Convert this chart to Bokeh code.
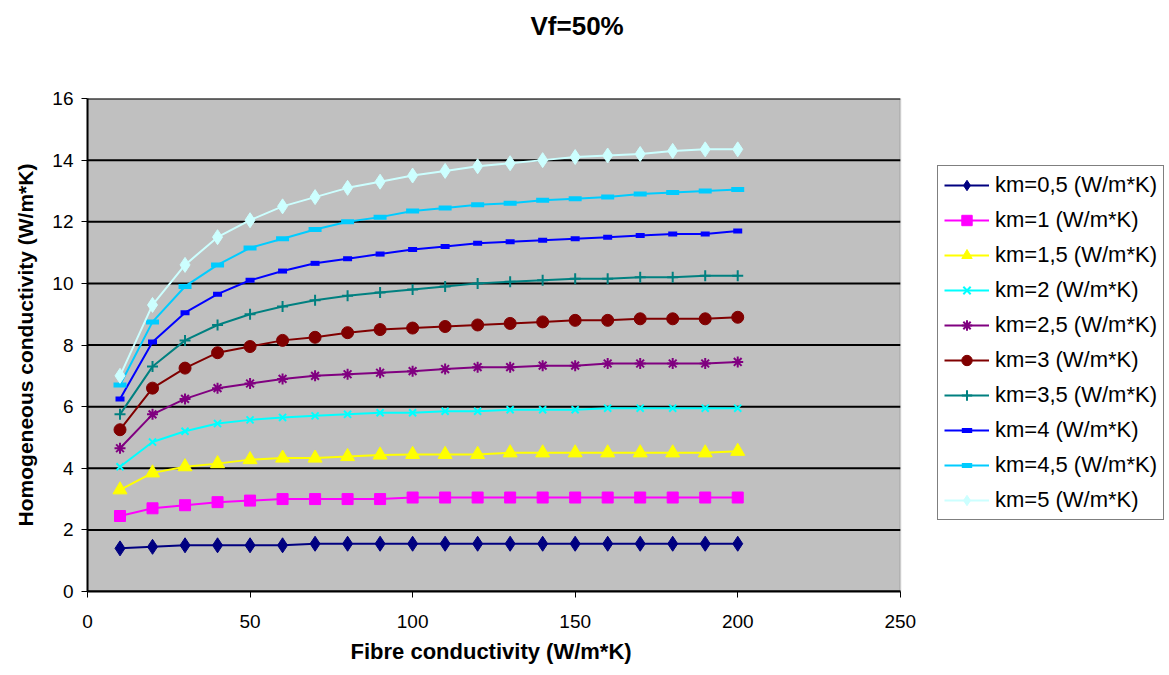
from bokeh.plotting import figure
from bokeh.models import Legend, LegendItem, Range1d, FixedTicker, BoxAnnotation, Title
from bokeh.embed import file_html
from bokeh.resources import INLINE

x = [10, 20, 30, 40, 50, 60, 70, 80, 90, 100, 110, 120, 130, 140, 150, 160, 170, 180, 190, 200]

km05 = [1.40, 1.45, 1.50, 1.50, 1.50, 1.50, 1.55, 1.55, 1.55, 1.55, 1.55, 1.55, 1.55, 1.55, 1.55, 1.55, 1.55, 1.55, 1.55, 1.55]
km10 = [2.45, 2.70, 2.80, 2.90, 2.95, 3.00, 3.00, 3.00, 3.00, 3.05, 3.05, 3.05, 3.05, 3.05, 3.05, 3.05, 3.05, 3.05, 3.05, 3.05]
km15 = [3.30, 3.85, 4.05, 4.15, 4.28, 4.33, 4.33, 4.38, 4.43, 4.45, 4.45, 4.45, 4.50, 4.50, 4.50, 4.50, 4.50, 4.50, 4.50, 4.55]
km20 = [4.05, 4.85, 5.20, 5.45, 5.57, 5.65, 5.70, 5.75, 5.80, 5.80, 5.85, 5.85, 5.90, 5.90, 5.90, 5.95, 5.95, 5.95, 5.95, 5.95]
km25 = [4.65, 5.75, 6.25, 6.60, 6.75, 6.90, 7.00, 7.05, 7.10, 7.15, 7.22, 7.28, 7.28, 7.33, 7.33, 7.40, 7.40, 7.40, 7.40, 7.45]
km30 = [5.25, 6.60, 7.25, 7.75, 7.95, 8.15, 8.25, 8.40, 8.50, 8.55, 8.60, 8.65, 8.70, 8.75, 8.80, 8.80, 8.85, 8.85, 8.85, 8.90]
km35 = [5.75, 7.30, 8.15, 8.65, 9.00, 9.25, 9.45, 9.60, 9.70, 9.80, 9.90, 10.00, 10.05, 10.10, 10.15, 10.15, 10.20, 10.20, 10.25, 10.25]
km40 = [6.25, 8.10, 9.05, 9.65, 10.10, 10.40, 10.65, 10.80, 10.95, 11.10, 11.20, 11.30, 11.35, 11.40, 11.45, 11.50, 11.55, 11.60, 11.60, 11.70]
km45 = [6.70, 8.75, 9.90, 10.60, 11.15, 11.45, 11.75, 12.00, 12.15, 12.35, 12.45, 12.55, 12.60, 12.70, 12.75, 12.80, 12.90, 12.95, 13.00, 13.05]
km50 = [7.00, 9.30, 10.60, 11.50, 12.05, 12.50, 12.80, 13.10, 13.30, 13.50, 13.65, 13.80, 13.90, 14.00, 14.10, 14.15, 14.20, 14.30, 14.35, 14.35]

labels = ["km=0,5 (W/m*K)", "km=1 (W/m*K)", "km=1,5 (W/m*K)", "km=2 (W/m*K)", "km=2,5 (W/m*K)",
          "km=3 (W/m*K)", "km=3,5 (W/m*K)", "km=4 (W/m*K)", "km=4,5 (W/m*K)", "km=5 (W/m*K)"]
series = [km05, km10, km15, km20, km25, km30, km35, km40, km45, km50]
colors = ["#000080", "#FF00FF", "#FFFF00", "#00FFFF", "#800080", "#800000", "#008080", "#0000FF", "#00CCFF", "#CCFFFF"]
markers = ["diamond", "square", "triangle", "x", "asterisk", "circle", "cross", "dash", "dash", "diamond"]
sizes = [15, 11, 14, 10, 11, 12, 11, 9, 13, 15]
mlw = [1, 1, 1, 2, 2, 1, 2, 5, 5, 1]

x_ticks = [0, 50, 100, 150, 200, 250]
y_ticks = [0, 2, 4, 6, 8, 10, 12, 14, 16]
X_MIN, X_MAX = 0, 250
Y_MIN, Y_MAX = 0, 16

FONT = "Liberation Sans"

# frame spans to the right edge so the legend can sit beside the plotting area
p = figure(width=1168, height=674, output_backend="svg", toolbar_location=None,
           x_range=Range1d(0, 332.5), y_range=Range1d(Y_MIN, Y_MAX),
           min_border_left=87, min_border_right=0, min_border_top=98, min_border_bottom=83,
           border_fill_color="white", background_fill_color="white")
p.outline_line_color = None
p.title.text = ""

bg = BoxAnnotation(left=X_MIN, right=X_MAX, bottom=Y_MIN, top=Y_MAX,
                   fill_color="#C0C0C0", fill_alpha=1.0, line_color="#808080", line_width=2,
                   level="underlay")
p.add_layout(bg)

# spacer panel between frame and chart title
spacer = Title(text=" ", text_font_size="1px", standoff=46)
p.add_layout(spacer, "above")
main_title = Title(text="Vf=50%", align="left", offset=443, vertical_align="top", standoff=14,
                   text_font=FONT, text_font_size="26px", text_font_style="bold", text_color="black")
p.add_layout(main_title, "above")

p.xaxis.ticker = FixedTicker(ticks=x_ticks)
p.yaxis.ticker = FixedTicker(ticks=y_ticks)
p.xaxis.bounds = (X_MIN, X_MAX)
for ax in (p.xaxis[0], p.yaxis[0]):
    ax.axis_line_color = "black"
    ax.axis_line_width = 2
    ax.major_tick_line_color = "black"
    ax.major_tick_in = 0
    ax.major_tick_out = 6
    ax.minor_tick_line_color = None
    ax.major_label_text_font = FONT
    ax.major_label_text_font_size = "19px"
    ax.major_label_text_color = "black"
    ax.axis_label_text_font = FONT
    ax.axis_label_text_font_size = "21px"
    ax.axis_label_text_font_style = "bold"
    ax.axis_label_text_color = "black"
p.yaxis.axis_label = "Homogeneous conductivity (W/m*K)"
p.xaxis.major_label_standoff = 17
p.yaxis.major_label_standoff = 8
p.yaxis.axis_label_standoff = 12

# x-axis title, placed under the 0..250 plotting area
xt = Title(text="Fibre conductivity (W/m*K)", align="left", offset=263, standoff=12,
           text_font=FONT, text_font_size="22px", text_font_style="bold", text_color="black")
p.add_layout(xt, "below")

p.xgrid.grid_line_color = None
p.ygrid.grid_line_color = None
# horizontal gridlines limited to the plotting area (0..250)
p.segment(x0=[X_MIN] * len(y_ticks), x1=[X_MAX] * len(y_ticks), y0=y_ticks, y1=y_ticks,
          line_color="black", line_width=2)

items = []
for lab, ys, c, m, s, lw in zip(labels, series, colors, markers, sizes, mlw):
    r1 = p.line(x, ys, line_color=c, line_width=2)
    r2 = p.scatter(x, ys, marker=m, size=s, fill_color=c, line_color=c, line_width=lw)
    items.append(LegendItem(label=lab, renderers=[r1, r2]))

legend = Legend(items=items, location=(850, 71))
legend.label_text_font = FONT
legend.label_text_font_size = "22px"
legend.label_text_color = "black"
legend.border_line_color = "black"
legend.border_line_width = 1.5
legend.background_fill_color = "white"
legend.background_fill_alpha = 1
legend.spacing = 9
legend.glyph_width = 45
legend.glyph_height = 26
legend.label_standoff = 6
legend.padding = 6
legend.margin = 0
p.add_layout(legend, "center")

open("out.html", "w").write(file_html(p, INLINE))
